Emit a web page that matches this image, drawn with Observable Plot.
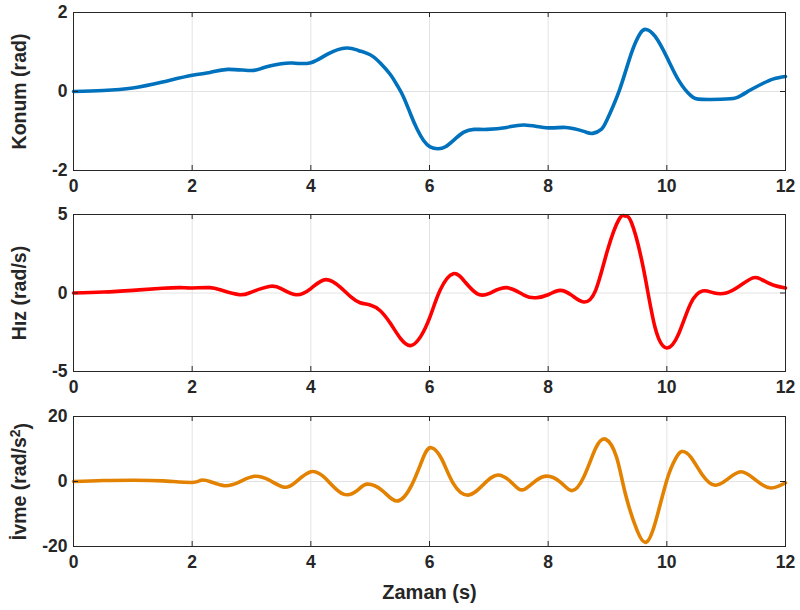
<!DOCTYPE html>
<html><head><meta charset="utf-8">
<script src="https://cdn.jsdelivr.net/npm/d3@7"></script>
<script src="https://cdn.jsdelivr.net/npm/@observablehq/plot@0.6"></script>
<style>
body{margin:0;background:#fff;}
#chart{width:800px;}
#chart svg{display:block;}
</style>
</head><body><div id="chart"></div>
<script>
// Zaman ekseni ve işaretler
const xTicks = [0, 2, 4, 6, 8, 10, 12];
const xLabel = "Zaman (s)";

// Konum (rad)
const konumT = [0, 0.5, 1, 1.5, 2, 2.3, 2.6, 3, 3.2, 3.5, 3.7, 4, 4.3, 4.6, 4.8, 5.0, 5.17, 5.34, 5.45, 5.56, 5.68, 5.79, 5.9, 6.01, 6.14, 6.27, 6.41, 6.58, 6.75, 6.97, 7.3, 7.6, 8.0, 8.3, 8.6, 8.75, 8.9, 9.0, 9.2, 9.4, 9.55, 9.65, 9.8, 10.0, 10.2, 10.4, 10.6, 11.0, 11.2, 11.4, 11.6, 11.8, 12];
const konumV = [0, 0.025, 0.09, 0.24, 0.41, 0.48, 0.56, 0.53, 0.6, 0.70, 0.72, 0.73, 0.96, 1.10, 1.04, 0.93, 0.72, 0.43, 0.17, -0.13, -0.57, -0.95, -1.24, -1.40, -1.45, -1.40, -1.23, -1.03, -0.96, -0.96, -0.91, -0.85, -0.92, -0.91, -1.01, -1.06, -0.95, -0.69, 0.03, 0.96, 1.47, 1.57, 1.40, 0.87, 0.28, -0.10, -0.20, -0.19, -0.14, 0.03, 0.19, 0.32, 0.38];
const konumTicks = [-2, 0, 2];

// Hız (rad/s)
const hizT = [0, 0.5, 1.0, 1.5, 1.8, 2.0, 2.3, 2.5, 2.8, 3.0, 3.3, 3.5, 3.75, 4.0, 4.25, 4.5, 4.67, 4.83, 5.0, 5.17, 5.34, 5.51, 5.68, 5.85, 6.01, 6.18, 6.4, 6.6, 6.8, 7.0, 7.3, 7.6, 7.8, 8.0, 8.2, 8.4, 8.6, 8.8, 9.0, 9.2, 9.3, 9.4, 9.6, 9.8, 10.0, 10.2, 10.4, 10.6, 10.8, 11.0, 11.2, 11.45, 11.6, 11.8, 12];
const hizV = [0, 0.06, 0.17, 0.30, 0.34, 0.32, 0.34, 0.17, -0.11, 0.06, 0.42, 0.28, -0.11, 0.28, 0.85, 0.36, -0.23, -0.62, -0.76, -1.13, -1.93, -2.89, -3.35, -2.78, -1.51, 0.19, 1.23, 0.70, -0.04, -0.04, 0.34, -0.15, -0.30, -0.11, 0.17, -0.15, -0.57, 0.17, 2.72, 4.73, 4.90, 4.52, 1.66, -2.17, -3.50, -2.59, -0.68, 0.13, 0, 0, 0.38, 0.96, 0.85, 0.49, 0.32];
const hizTicks = [-5, 0, 5];

// İvme (rad/s²)
const ivmeT = [0, 0.5, 1.0, 1.5, 2.0, 2.15, 2.3, 2.55, 2.8, 3.05, 3.3, 3.55, 3.75, 4.0, 4.25, 4.55, 4.8, 4.95, 5.2, 5.45, 5.7, 5.9, 6.03, 6.2, 6.4, 6.65, 6.9, 7.15, 7.4, 7.6, 7.9, 8.2, 8.4, 8.6, 8.8, 8.97, 9.15, 9.3, 9.5, 9.65, 9.8, 10.0, 10.15, 10.25, 10.4, 10.6, 10.8, 11.0, 11.25, 11.5, 11.75, 12];
const ivmeV = [0, 0.3, 0.4, 0.2, -0.3, 0.4, 0, -1.3, -0.1, 1.6, 0.4, -1.75, -0.1, 3.0, 0.9, -3.9, -2.5, -0.8, -2.7, -6.0, -1.1, 7.6, 10.4, 7.1, -0.6, -4.2, -1.1, 2.0, -0.6, -2.4, 1.4, -0.1, -2.8, 1.4, 10.2, 13.0, 7.6, -3.7, -15.1, -18.7, -13.0, 0.4, 7.1, 9.2, 7.6, 2.0, -1.1, 0.4, 3.0, 0.4, -2.0, -0.4];
const ivmeTicks = [-20, 0, 20];

const panels = [
  {t: konumT, v: konumV, ticks: konumTicks, color: "#0072BD", label: "Konum (rad)", height: 202, mb: 32},
  {t: hizT, v: hizV, ticks: hizTicks, color: "#FF0000", label: "Hız (rad/s)", height: 202, mb: 33},
  {t: ivmeT, v: ivmeV, ticks: ivmeTicks, color: "#E38200", label: "İvme (rad/s2)", height: 206, mb: 64, last: true}
];

const W = 800, ML = 73, MR = 15, MT = 12;
const axisColor = "#262626";
const gridColor = "#e3e3e3";

for (const p of panels) {
  const data = p.t.map((t, i) => ({t, v: p.v[i]}));
  const ph = p.height - MT - p.mb;
  const pw = W - ML - MR;
  const chart = Plot.plot({
    width: W, height: p.height,
    marginLeft: ML, marginRight: MR, marginTop: MT, marginBottom: p.mb,
    style: {fontFamily: "'Liberation Sans', Arial, sans-serif", fontSize: "17.5px", fontWeight: "bold", color: axisColor, background: "#fff", overflow: "visible"},
    x: {domain: [0, 12]},
    y: {domain: [p.ticks[0], p.ticks[p.ticks.length - 1]]},
    marks: [
      Plot.gridX(xTicks, {stroke: gridColor, strokeOpacity: 1, strokeWidth: 1}),
      Plot.gridY(p.ticks, {stroke: gridColor, strokeOpacity: 1, strokeWidth: 1}),
      Plot.line(data, {x: "t", y: "v", stroke: p.color, strokeWidth: 3.6, curve: "natural"}),
      Plot.tickX(xTicks, {x: d => d, stroke: axisColor, insetTop: ph - 5}),
      Plot.tickX(xTicks, {x: d => d, stroke: axisColor, insetBottom: ph - 5}),
      Plot.tickY(p.ticks, {y: d => d, stroke: axisColor, insetRight: pw - 5}),
      Plot.tickY(p.ticks, {y: d => d, stroke: axisColor, insetLeft: pw - 5}),
      Plot.frame({stroke: axisColor, strokeWidth: 1}),
      Plot.axisX(xTicks, {tickSize: 0, tickPadding: 9, tickFormat: d => String(d), fontSize: 17.5,
        label: p.last ? xLabel : null, labelAnchor: "center", labelArrow: "none", labelOffset: 52}),
      Plot.axisY(p.ticks, {tickSize: 0, tickPadding: 6, tickFormat: d => String(d), fontSize: 17.5,
        label: p.label, labelAnchor: "center", labelArrow: "none", labelOffset: 61})
    ]
  });
  chart.querySelectorAll("text").forEach(el => {
    if (el.textContent === xLabel) el.setAttribute("font-size", "20");
  });
  const yl = chart.querySelector('[aria-label="y-axis label"] text');
  if (yl) {
    yl.setAttribute("font-size", "19.5");
    if (p.last) {
      yl.textContent = "İvme (rad/s";
      const sup = document.createElementNS("http://www.w3.org/2000/svg", "tspan");
      sup.setAttribute("dy", "-0.45em");
      sup.setAttribute("font-size", "14");
      sup.textContent = "2";
      const close = document.createElementNS("http://www.w3.org/2000/svg", "tspan");
      close.setAttribute("dy", "0.45em");
      close.textContent = ")";
      yl.appendChild(sup);
      yl.appendChild(close);
    }
  }
  document.getElementById("chart").appendChild(chart);
}
</script>
</body></html>
